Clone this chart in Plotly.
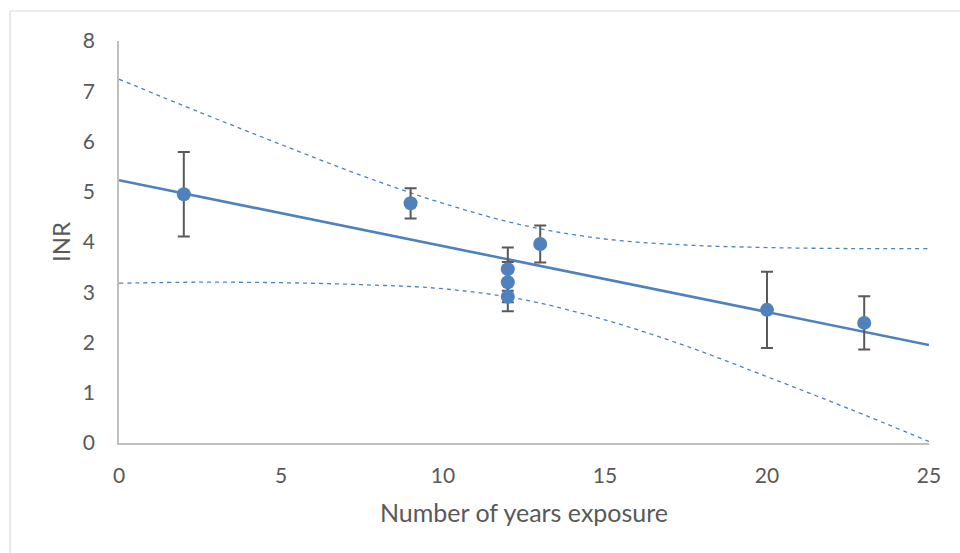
import plotly.graph_objects as go

# Data
years = [2, 9, 12, 12, 12, 13, 20, 23]
inr = [4.95, 4.77, 3.46, 3.20, 2.91, 3.96, 2.65, 2.39]
inr_err = [0.84, 0.30, 0.43, 0.40, 0.29, 0.37, 0.76, 0.53]

fit_x = [0, 25]
fit_y = [5.23, 1.95]

band_x = [0, 2.5, 5, 7.5, 10, 12.5, 15, 17.5, 20, 22.5, 25]
band_upper = [7.24, 6.58, 5.94, 5.32, 4.77, 4.33, 4.06, 3.94, 3.89, 3.87, 3.87]
band_lower = [3.18, 3.20, 3.19, 3.15, 3.07, 2.85, 2.45, 1.93, 1.32, 0.69, 0.03]

x_ticks = [0, 5, 10, 15, 20, 25]
y_ticks = [0, 1, 2, 3, 4, 5, 6, 7, 8]

blue = "#4F81BD"
grey_txt = "#595959"
FONT = "Lato"

fig = go.Figure()

fig.add_trace(go.Scatter(x=band_x, y=band_upper, mode="lines",
                         line=dict(color=blue, width=1.3, dash="4px,4px", shape="spline"),
                         hoverinfo="skip", showlegend=False))
fig.add_trace(go.Scatter(x=band_x, y=band_lower, mode="lines",
                         line=dict(color=blue, width=1.3, dash="4px,4px", shape="spline"),
                         hoverinfo="skip", showlegend=False))
fig.add_trace(go.Scatter(x=fit_x, y=fit_y, mode="lines",
                         line=dict(color=blue, width=2.6),
                         hoverinfo="skip", showlegend=False))
fig.add_trace(go.Scatter(x=years, y=inr, mode="markers",
                         marker=dict(color=blue, size=14),
                         error_y=dict(type="data", array=inr_err, visible=True,
                                      color="#595959", thickness=2, width=6),
                         showlegend=False))

fig.update_layout(
    width=960, height=553,
    margin=dict(l=119, r=31, t=41, b=110),
    paper_bgcolor="white", plot_bgcolor="white",
    font=dict(family=FONT, color=grey_txt, size=21),
    xaxis=dict(range=[0, 25], tickvals=x_ticks, showgrid=False, zeroline=False,
               showline=True, linecolor="#BFBFBF", linewidth=1.5, ticks="",
               ticklabelstandoff=13,
               tickfont=dict(family=FONT, size=21, color=grey_txt),
               title=dict(text="Number of years exposure", standoff=19,
                          font=dict(family=FONT, size=25, color=grey_txt))),
    yaxis=dict(range=[0, 8], tickvals=y_ticks, showgrid=False, zeroline=False,
               showline=True, linecolor="#BFBFBF", linewidth=1.5, ticks="",
               ticklabelstandoff=18,
               tickfont=dict(family=FONT, size=21, color=grey_txt),
               title=dict(text="INR", standoff=5,
                          font=dict(family=FONT, size=24, color=grey_txt))),
    shapes=[dict(type="rect", xref="paper", yref="paper",
                 x0=(10 - 119) / 810, x1=(965 - 119) / 810,
                 y0=(443 - 560) / 402, y1=(443 - 11) / 402,
                 line=dict(color="#D9D9D9", width=1.2), layer="below")],
)

fig.write_html("out.html")
